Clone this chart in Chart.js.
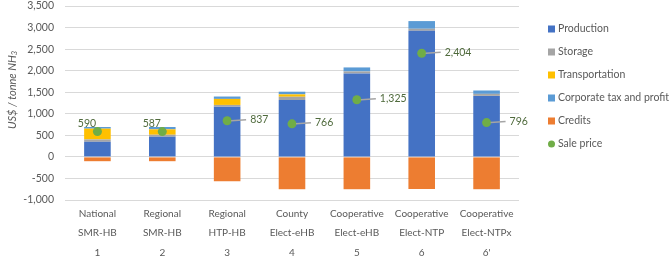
<!DOCTYPE html>
<html>
<head>
<meta charset="utf-8">
<script src="https://cdn.jsdelivr.net/npm/chart.js@4/dist/chart.umd.min.js"></script>
<style>
  html, body { margin: 0; padding: 0; background: #fff; }
  #wrap { width: 669px; height: 258px; }
</style>
</head>
<body>
<div id="wrap"><canvas id="chart" width="669" height="258"></canvas></div>
<script>
const categorias = [
  ["National", "SMR-HB", "1"],
  ["Regional", "SMR-HB", "2"],
  ["Regional", "HTP-HB", "3"],
  ["County", "Elect-eHB", "4"],
  ["Cooperative", "Elect-eHB", "5"],
  ["Cooperative", "Elect-NTP", "6"],
  ["Cooperative", "Elect-NTPx", "6'"]
];
const produccion = [350, 467, 1165, 1320, 1935, 2925, 1415];
const almacenamiento = [55, 47, 40, 75, 47, 47, 47];
const transporte = [250, 125, 140, 55, 0, 0, 0];
const impuestos = [38, 54, 55, 62, 93, 178, 78];
const creditos = [-100, -100, -565, -750, -750, -745, -750];
const precioVenta = [590, 587, 837, 766, 1325, 2404, 796];
const ticksY = [-1000, -500, 0, 500, 1000, 1500, 2000, 2500, 3000, 3500];

const colores = ["#4472c4", "#a5a5a5", "#ffc000", "#5b9bd5", "#ed7d31", "#70ad47"];
const gris = "#595959";
const fuente = "Lato";

// Etiquetas de precio de venta
const etiquetasPrecio = {
  id: "etiquetasPrecio",
  afterDatasetsDraw(chart) {
    const meta = chart.getDatasetMeta(5);
    const ctx = chart.ctx;
    ctx.save();
    ctx.font = "10.5px " + fuente;
    ctx.fillStyle = "#4f6a3c";
    meta.data.forEach((pt, i) => {
      const txt = precioVenta[i].toLocaleString("en-US");
      if (i < 2) {
        ctx.textAlign = "center";
        ctx.textBaseline = "middle";
        ctx.fillText(txt, pt.x - 10.5, pt.y - 8);
      } else {
        ctx.strokeStyle = "#a5a5a5";
        ctx.lineWidth = 1.5;
        ctx.beginPath();
        ctx.moveTo(pt.x + 4, pt.y);
        ctx.lineTo(pt.x + 19, pt.y - 1);
        ctx.stroke();
        ctx.textAlign = "left";
        ctx.textBaseline = "middle";
        ctx.fillText(txt, pt.x + 23, pt.y - 1);
      }
    });
    ctx.restore();
  }
};

// Leyenda y título del eje
const leyenda = {
  id: "leyenda",
  afterDraw(chart) {
    const ctx = chart.ctx;
    ctx.save();
    ctx.font = "10.5px " + fuente;
    ctx.textBaseline = "middle";
    ctx.textAlign = "left";
    chart.data.datasets.forEach((ds, i) => {
      const y = 29 + i * 23;
      ctx.fillStyle = colores[i];
      if (ds.type === "line") {
        ctx.beginPath();
        ctx.arc(551.5, y, 3.5, 0, Math.PI * 2);
        ctx.fill();
      } else {
        ctx.fillRect(548, y - 3.5, 7, 7);
      }
      ctx.fillStyle = gris;
      ctx.fillText(ds.label, 558, y);
    });

    // título eje y con subíndice
    ctx.translate(12, 90);
    ctx.rotate(-Math.PI / 2);
    ctx.fillStyle = gris;
    ctx.font = "italic 11px " + fuente;
    const t = "US$ / tonne NH";
    const w = ctx.measureText(t).width;
    ctx.font = "italic 7.5px " + fuente;
    const w3 = ctx.measureText("3").width;
    const x0 = -(w + w3) / 2;
    ctx.font = "italic 11px " + fuente;
    ctx.fillText(t, x0, 0);
    ctx.font = "italic 7.5px " + fuente;
    ctx.fillText("3", x0 + w, 3);
    ctx.restore();
  }
};

const barra = (label, data, color) => ({
  type: "bar",
  label,
  data,
  backgroundColor: color,
  stack: "costos",
  barPercentage: 0.41,
  categoryPercentage: 1,
  order: 2
});

new Chart(document.getElementById("chart"), {
  data: {
    labels: categorias,
    datasets: [
      barra("Production", produccion, colores[0]),
      barra("Storage", almacenamiento, colores[1]),
      barra("Transportation", transporte, colores[2]),
      barra("Corporate tax and profit", impuestos, colores[3]),
      barra("Credits", creditos, colores[4]),
      {
        type: "line",
        label: "Sale price",
        data: precioVenta,
        stack: "precio",
        showLine: false,
        pointRadius: 4.5,
        pointBackgroundColor: colores[5],
        pointBorderWidth: 0,
        order: 1
      }
    ]
  },
  options: {
    responsive: false,
    animation: false,
    layout: { padding: { left: 5, right: 150, top: 0, bottom: 0 } },
    plugins: {
      legend: { display: false },
      tooltip: { enabled: false }
    },
    scales: {
      x: {
        stacked: true,
        grid: { display: false },
        border: { display: false },
        ticks: {
          color: gris,
          font: { family: fuente, size: 10, lineHeight: 1.95 },
          padding: -4,
          maxRotation: 0,
          autoSkip: false
        },
        afterFit(scale) { scale.height = 58; }
      },
      y: {
        stacked: true,
        min: -1000,
        max: 3500,
        afterBuildTicks(scale) { scale.ticks = ticksY.map(v => ({ value: v })); },
        grid: { color: "#d9d9d9", lineWidth: 1, drawTicks: false },
        border: { display: false },
        ticks: {
          color: gris,
          font: { family: fuente, size: 10.5 },
          padding: 11,
          callback: v => v.toLocaleString("en-US")
        },
        afterFit(scale) {
          scale.width = 60;
          scale.paddingTop = 6;
          scale.paddingBottom = 0;
        }
      }
    }
  },
  plugins: [etiquetasPrecio, leyenda]
});
</script>
</body>
</html>
